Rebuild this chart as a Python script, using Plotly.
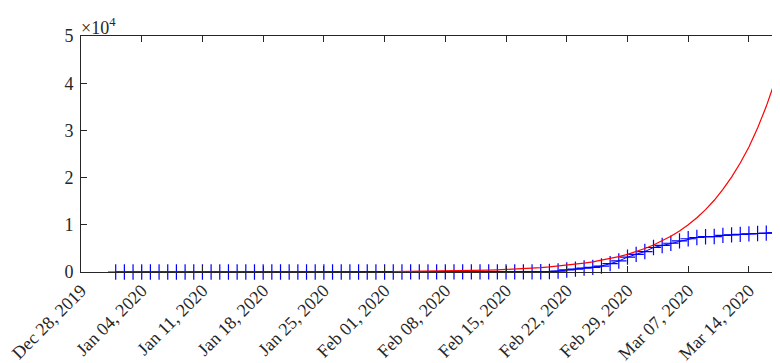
import pandas as pd
import plotly.graph_objects as go

# Observed cumulative counts (blue), daily from 2020-01-01
obs_start = "2020-01-01"
obs_values = [0]*19 + [1, 1, 1, 1, 2, 2, 3, 4, 4, 4, 6, 11] + \
    [12, 15, 15, 16, 19, 23, 24, 24, 27, 27, 28, 28, 28, 28, 28, 29, 30, 31,
     51, 104, 204, 433, 602, 833, 977, 1261, 1766, 2337, 3150] + \
    [3736, 4335, 5186, 5621, 6088, 6593, 7041, 7314, 7478, 7513, 7755, 7869,
     7979, 8086, 8162, 8236, 8320]

# Fitted curve (red), daily from 2020-02-02
fit_start = "2020-02-02"
fit_values = [85, 100, 115, 130, 150, 170, 200, 230, 260, 300, 350, 400, 460, 530,
              610, 700, 810, 930, 1070, 1230, 1410, 1620, 1870, 2150, 2470, 2840,
              3260, 3750, 4320, 4970, 5710, 6570, 7560, 8700, 10000, 11500, 13200,
              15200, 17500, 20100, 23100, 26500, 30500, 35100, 40400]

y_tickvals = [0, 10000, 20000, 30000, 40000, 50000]
y_ticktext = ["0", "1", "2", "3", "4", "5"]

obs_dates = pd.date_range(obs_start, periods=len(obs_values), freq="D")
fit_dates = pd.date_range(fit_start, periods=len(fit_values), freq="D")

FONT = "Liberation Serif"
AX = "#262626"

fig = go.Figure()
fig.add_trace(go.Scatter(
    x=obs_dates, y=obs_values, mode="lines+markers", cliponaxis=False,
    line=dict(color="#0000ff", width=1),
    marker=dict(symbol="cross-thin", size=11, line=dict(color="#0000ff", width=1.2)),
    showlegend=False))
fig.add_trace(go.Scatter(
    x=fit_dates, y=fit_values, mode="lines",
    line=dict(color="#ff0000", width=1.2), showlegend=False))

# page body has an 8px margin, so the figure is sized to fill the rest of the window
fig.update_layout(
    width=772, height=355,
    margin=dict(l=73, r=0, t=28, b=91),
    plot_bgcolor="white", paper_bgcolor="white",
    font=dict(family=FONT, size=18, color=AX),
    xaxis=dict(
        type="date", automargin=False, ticklabeloverflow="allow",
        range=["2019-12-28", "2020-03-17 14:00"],
        tick0="2019-12-28", dtick=7*24*3600*1000,
        tickformat="%b %d, %Y", tickangle=-45,
        showline=True, linecolor=AX, linewidth=1, mirror="ticks",
        ticks="inside", ticklen=6, tickcolor=AX, tickwidth=1,
        showgrid=False, zeroline=False,
        tickfont=dict(family=FONT, size=18, color=AX),
    ),
    yaxis=dict(
        range=[0, 50000], automargin=False,
        tickvals=y_tickvals, ticktext=y_ticktext,
        showline=True, linecolor=AX, linewidth=1, mirror=False,
        ticks="inside", ticklen=6, tickcolor=AX, tickwidth=1,
        showgrid=False, zeroline=False, ticklabelstandoff=3,
        tickfont=dict(family=FONT, size=18, color=AX),
    ),
    annotations=[dict(
        text="×10<sup>4</sup>", xref="paper", yref="paper", x=0, y=1,
        xanchor="left", yanchor="bottom", showarrow=False,
        font=dict(family=FONT, size=18, color=AX), xshift=-2, yshift=-4)],
)

fig.write_html("out.html")
